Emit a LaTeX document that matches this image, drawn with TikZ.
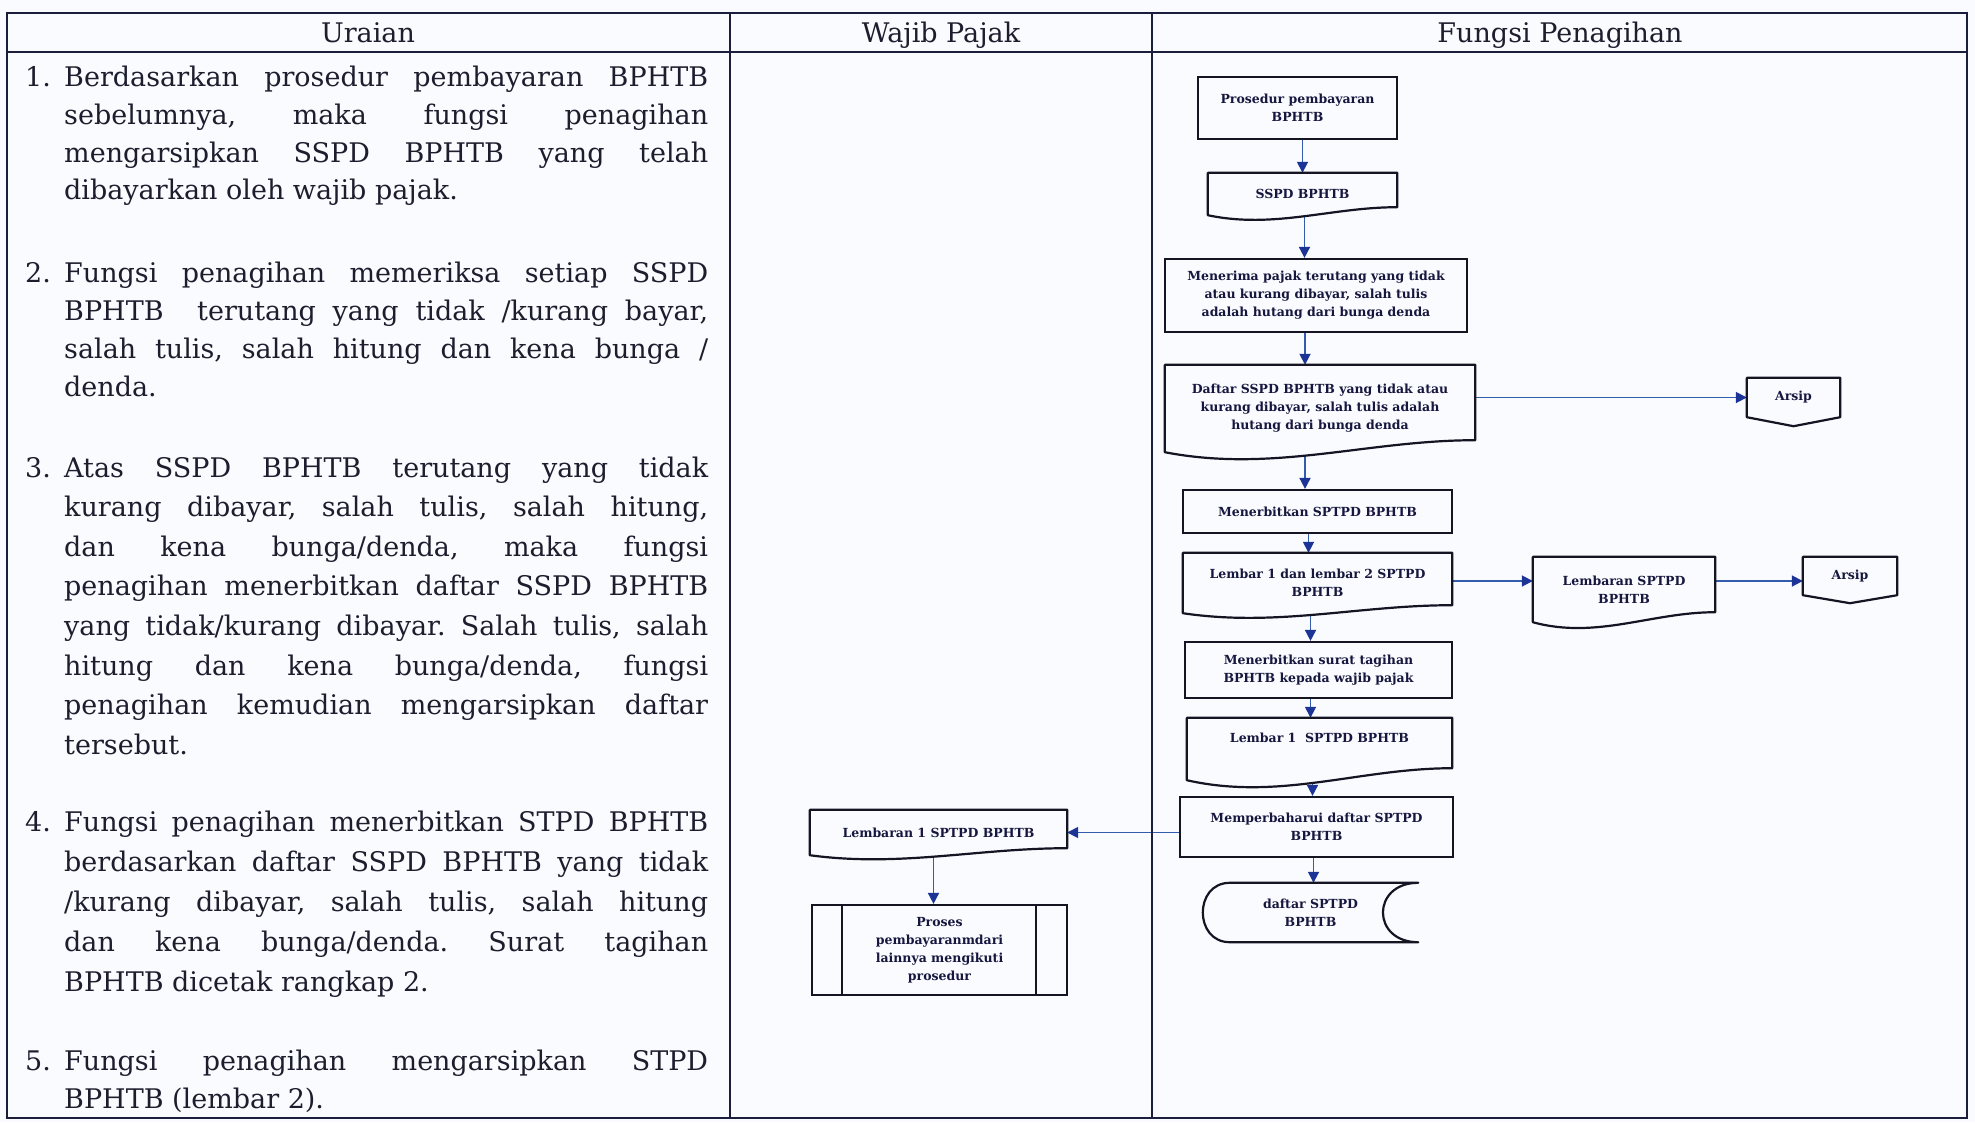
\documentclass[tikz,border=0pt]{standalone}
\usepackage{fontspec}
\setmainfont{DejaVu Serif}
\usetikzlibrary{arrows.meta,calc}
\pgfdeclarelayer{back}
\pgfdeclarelayer{conn}
\pgfdeclarelayer{shp}
\pgfsetlayers{back,conn,shp,main}
\definecolor{bg}{RGB}{249,251,254}
\definecolor{ink}{RGB}{28,30,46}
\definecolor{rulec}{RGB}{26,30,60}
\definecolor{boxink}{RGB}{20,20,35}
\definecolor{flow}{RGB}{50,92,172}
\definecolor{tipc}{RGB}{28,52,150}
\definecolor{lbl}{RGB}{22,22,62}
\frenchspacing
\newlength\ulw
\setlength\ulw{644pt}
\newcommand\uraianjust[3]{\node[uline] (#1) at (64,#2) {\makebox[\ulw][s]{#3}};}
\newcommand\uraianplain[3]{\node[uline] (#1) at (64,#2) {#3};}
\newcommand\uraiannum[3]{\node[uline] (#1) at (25,#2) {#3};}
\newcommand\docpath[2]{%
  \path[shapeline] (#1.north west) -- (#1.north east) -- ($(#1.south east)+(0,#2pt)$)
    .. controls ($(#1.south east)!0.35!(#1.south west)+(0,#2pt)$)
    and ($(#1.south east)!0.65!(#1.south west)+(0,-1.75*#2pt)$) .. (#1.south west) -- cycle;}
\newcommand\arsippath[2]{%
  \path[shapeline] (#1.north west) -- (#1.north east) -- (#1.south east)
    -- ($(#1.south)+(0,-#2pt)$) -- (#1.south west) -- cycle;}
\begin{document}
\begin{tikzpicture}[x=1pt,y=-1pt,
  uline/.style={anchor=base west, inner sep=0pt, font=\fontsize{27}{39}\selectfont\frenchspacing, text=ink},
  hdr/.style={anchor=base, inner sep=0pt, font=\fontsize{27}{32}\selectfont, text=ink},
  rulel/.style={draw=rulec, line width=2.5pt},
  fbox/.style={draw=boxink, fill=bg, line width=2.2pt, rectangle, inner sep=0pt, align=center,
    font=\fontsize{12.5}{18}\selectfont\bfseries, text=lbl},
  docnode/.style={rectangle, inner sep=0pt, align=center,
    font=\fontsize{12.5}{18}\selectfont\bfseries, text=lbl},
  shapeline/.style={draw=boxink, fill=bg, line width=2.2pt, line join=round},
  arr/.style={draw=flow, line width=1.7pt, -{Triangle[length=11pt,width=11pt,color=tipc]}}]
\begin{pgfonlayer}{back}
\fill[bg] (0,0) rectangle (1975,1122);
\end{pgfonlayer}
\useasboundingbox (0,0) rectangle (1975,1122);

% table
\draw[rulel] (7,13) rectangle (1967,1118);
\draw[rulel] (7,52) -- (1967,52);
\draw[rulel] (730,13) -- (730,1118);
\draw[rulel] (1152,13) -- (1152,1118);

\node[hdr] (h1) at (368,42) {Uraian};
\node[hdr] (h2) at (941,42) {Wajib Pajak};
\node[hdr] (h3) at (1560,42) {Fungsi Penagihan};

% Uraian text
\uraiannum{n1}{86}{1.}
\uraianjust{l1a}{86}{Berdasarkan prosedur pembayaran BPHTB}
\uraianjust{l1b}{124}{sebelumnya, maka fungsi penagihan}
\uraianjust{l1c}{162}{mengarsipkan SSPD BPHTB yang telah}
\uraianplain{l1d}{199}{dibayarkan oleh wajib pajak.}

\uraiannum{n2}{282}{2.}
\uraianjust{l2a}{282}{Fungsi penagihan memeriksa setiap SSPD}
\uraianjust{l2b}{320}{BPHTB \ terutang yang tidak /kurang bayar,}
\uraianjust{l2c}{358}{salah tulis, salah hitung dan kena bunga /}
\uraianplain{l2d}{396}{denda.}

\uraiannum{n3}{477}{3.}
\uraianjust{l3a}{477}{Atas SSPD BPHTB terutang yang tidak}
\uraianjust{l3b}{516.6}{kurang dibayar, salah tulis, salah hitung,}
\uraianjust{l3c}{556.2}{dan kena bunga/denda, maka fungsi}
\uraianjust{l3d}{595.8}{penagihan menerbitkan daftar SSPD BPHTB}
\uraianjust{l3e}{635.4}{yang tidak/kurang dibayar. Salah tulis, salah}
\uraianjust{l3f}{675}{hitung dan kena bunga/denda, fungsi}
\uraianjust{l3g}{714.6}{penagihan kemudian mengarsipkan daftar}
\uraianplain{l3h}{754.2}{tersebut.}

\uraiannum{n4}{831}{4.}
\uraianjust{l4a}{831}{Fungsi penagihan menerbitkan STPD BPHTB}
\uraianjust{l4b}{871}{berdasarkan daftar SSPD BPHTB yang tidak}
\uraianjust{l4c}{911}{/kurang dibayar, salah tulis, salah hitung}
\uraianjust{l4d}{951}{dan kena bunga/denda. Surat tagihan}
\uraianplain{l4e}{991}{BPHTB dicetak rangkap 2.}

\uraiannum{n5}{1070}{5.}
\uraianjust{l5a}{1070}{Fungsi penagihan mengarsipkan STPD}
\uraianplain{l5b}{1108}{BPHTB (lembar 2).}

% flowchart nodes
\node[fbox, minimum width=199pt, minimum height=62pt] (p1) at (1297.5,108) {Prosedur pembayaran\\BPHTB};
\node[docnode, minimum width=189pt, minimum height=42pt] (d1) at (1302.5,194) {SSPD BPHTB};
\node[fbox, minimum width=302pt, minimum height=73pt] (p2) at (1316,295.5) {Menerima pajak terutang yang tidak\\atau kurang dibayar, salah tulis\\adalah hutang dari bunga denda};
\node[docnode, minimum width=310pt, minimum height=87pt] (d2) at (1320,408.5) {Daftar SSPD BPHTB yang tidak atau\\kurang dibayar, salah tulis adalah\\hutang dari bunga denda};
\node[docnode, minimum width=93pt, minimum height=39pt] (a1) at (1793.5,397.5) {Arsip};
\node[fbox, minimum width=269pt, minimum height=43pt] (p3) at (1317.5,511.5) {Menerbitkan SPTPD BPHTB};
\node[docnode, minimum width=269pt, minimum height=60pt] (d3) at (1317.5,583) {Lembar 1 dan lembar 2 SPTPD\\BPHTB};
\node[docnode, minimum width=182pt, minimum height=65pt] (d4) at (1624,589.5) {Lembaran SPTPD\\BPHTB};
\node[docnode, minimum width=94pt, minimum height=38pt] (a2) at (1850,576) {Arsip};
\node[fbox, minimum width=267pt, minimum height=56pt] (p4) at (1318.5,670) {Menerbitkan surat tagihan\\BPHTB kepada wajib pajak};
\node[docnode, minimum width=265pt, minimum height=62pt] (d5) at (1319.5,749) {};
\node[docnode] (d5t) at (1319.5,738) {Lembar 1\ \ SPTPD BPHTB};
\node[fbox, minimum width=273pt, minimum height=60pt] (p5) at (1316.5,827) {Memperbaharui daftar SPTPD\\BPHTB};
\node[docnode, minimum width=215pt, minimum height=59pt] (st) at (1310.5,912.5) {daftar SPTPD\\BPHTB};
\node[docnode, minimum width=257pt, minimum height=45pt] (d6) at (938.5,832.5) {Lembaran 1 SPTPD BPHTB};
\node[fbox, minimum width=255pt, minimum height=90pt] (pp) at (939.5,950) {Proses\\pembayaranmdari\\lainnya mengikuti\\prosedur};
\draw[draw=boxink, line width=2.2pt] ([xshift=31pt]pp.north west) -- ([xshift=31pt]pp.south west);
\draw[draw=boxink, line width=2.2pt] ([xshift=-32pt]pp.north east) -- ([xshift=-32pt]pp.south east);

% shape outlines
\begin{pgfonlayer}{shp}
\docpath{d1}{8}
\docpath{d2}{12}
\docpath{d3}{8}
\docpath{d4}{10}
\docpath{d5}{12}
\docpath{d6}{7}
\arsippath{a1}{9}
\arsippath{a2}{8}
\path[shapeline] ([xshift=27pt]st.north west) -- (st.north east)
  .. controls ([xshift=-47pt]st.north east) and ([xshift=-47pt]st.south east) .. (st.south east)
  -- ([xshift=27pt]st.south west)
  .. controls ([xshift=-9pt]st.south west) and ([xshift=-9pt]st.north west) .. ([xshift=27pt]st.north west) -- cycle;
\end{pgfonlayer}

% connectors
\begin{pgfonlayer}{conn}
\draw[arr] (p1.south -| d1.north) -- (d1.north);
\draw[arr] ([xshift=2pt]d1.south) -- ([xshift=2pt]d1.south |- p2.north);
\draw[arr] ([xshift=-11pt]p2.south) -- ([xshift=-11pt]p2.south |- d2.north);
\draw[arr] (d2.east |- a1.west) -- (a1.west);
\draw[arr] ([xshift=-15pt]d2.south) -- ([xshift=-15pt]d2.south |- p3.north);
\draw[arr] ([xshift=-9pt]p3.south) -- ([xshift=-9pt]p3.south |- d3.north);
\draw[arr] ([yshift=2pt]d3.east) -- ([yshift=2pt]d3.east -| d4.west);
\draw[arr] ([yshift=2pt]d4.east |- d3.east) -- ([yshift=2pt]a2.west |- d3.east);
\draw[arr] ([xshift=-7pt]d3.south) -- ([xshift=-7pt]d3.south |- p4.north);
\draw[arr] ([xshift=-8pt]p4.south) -- ([xshift=-8pt]p4.south |- d5.north);
\draw[arr] ([xshift=-7pt]d5.south) -- ([xshift=-7pt]d5.south |- p5.north);
\draw[arr] (p5.west |- d6.east) -- (d6.east);
\draw[arr] ([xshift=-3pt]p5.south) -- ([xshift=-3pt]p5.south |- st.north);
\draw[arr] ([xshift=-5pt]d6.south) -- ([xshift=-5pt]d6.south |- pp.north);
\end{pgfonlayer}
\end{tikzpicture}
\end{document}
